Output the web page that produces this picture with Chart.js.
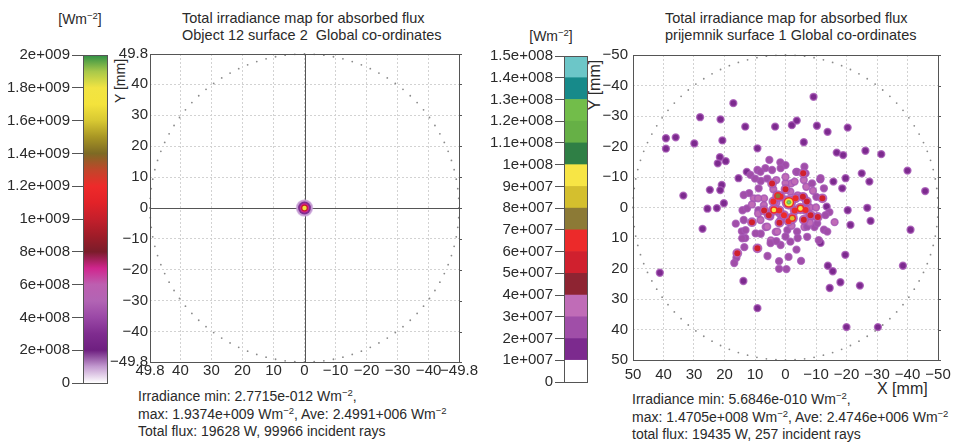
<!DOCTYPE html>
<html>
<head>
<meta charset="utf-8">
<script src="https://cdn.jsdelivr.net/npm/chart.js@4.4.1/dist/chart.umd.min.js"></script>
<style>
  html, body { margin: 0; padding: 0; background: #ffffff; }
  body { position: relative; width: 958px; height: 444px; overflow: hidden;
         font-family: "Liberation Sans", Arial, Helvetica, sans-serif; color: #2a2a2a; }
  canvas { position: absolute; }
  .txt { position: absolute; font-size: 14px; line-height: 17.5px; white-space: nowrap; }
  .title { font-size: 14.5px; line-height: 17px; }
  sup { font-size: 9.5px; vertical-align: 5px; line-height: 0; }
  .rot { position: absolute; width: 70px; height: 18px; line-height: 18px; text-align: center;
         transform: rotate(-90deg); white-space: nowrap; }
</style>
</head>
<body>

<div class="txt" style="left:55px;top:11px;width:50px;text-align:center">[Wm<sup>−2</sup>]</div>
<div class="txt" style="left:526px;top:28px;width:50px;text-align:center">[Wm<sup>−2</sup>]</div>

<div class="txt title" style="left:182px;top:10px">Total irradiance map for absorbed flux<br>Object 12 surface 2&nbsp; Global co-ordinates</div>
<div class="txt title" style="left:665px;top:10px">Total irradiance map for absorbed flux<br>prijemnik surface 1 Global co-ordinates</div>

<div class="rot" style="left:85px;top:72px;font-size:14px">Y [mm]</div>
<div class="rot" style="left:560px;top:76px;font-size:16px">Y [mm]</div>
<div class="txt" style="left:877px;top:380px;font-size:16px;line-height:18px">X [mm]</div>

<div class="txt" style="left:138px;top:388px">Irradiance min: 2.7715e-012 Wm<sup>−2</sup>,<br>max: 1.9374e+009 Wm<sup>−2</sup>, Ave: 2.4991+006 Wm<sup>−2</sup><br>Total flux: 19628 W, 99966 incident rays</div>
<div class="txt" style="left:632px;top:391px">Irradiance min: 5.6846e-010 Wm<sup>−2</sup>,<br>max: 1.4705e+008 Wm<sup>−2</sup>, Ave: 2.4746e+006 Wm<sup>−2</sup><br>total flux: 19435 W, 257 incident rays</div>

<canvas id="leftBar"  width="115" height="360" style="left:0px;top:40px"></canvas>
<canvas id="leftMap"  width="380" height="350" style="left:100px;top:40px"></canvas>
<canvas id="rightBar" width="120" height="360" style="left:480px;top:40px"></canvas>
<canvas id="rightMap" width="363" height="350" style="left:595px;top:40px"></canvas>

<script>
// ---------- colour bar scales ----------
const LEFT_BAR_TICKS  = [0, 2e8, 4e8, 6e8, 8e8, 1e9, 1.2e9, 1.4e9, 1.6e9, 1.8e9, 2e9];
const LEFT_BAR_LABELS = ['0', '2e+008', '4e+008', '6e+008', '8e+008', '1e+009',
                         '1.2e+009', '1.4e+009', '1.6e+009', '1.8e+009', '2e+009'];

const RIGHT_BAR_TICKS  = [0, 1e7, 2e7, 3e7, 4e7, 5e7, 6e7, 7e7, 8e7, 9e7, 1e8,
                          1.1e8, 1.2e8, 1.3e8, 1.4e8, 1.5e8];
const RIGHT_BAR_LABELS = ['0', '1e+007', '2e+007', '3e+007', '4e+007', '5e+007', '6e+007',
                          '7e+007', '8e+007', '9e+007', '1e+008', '1.1e+008', '1.2e+008',
                          '1.3e+008', '1.4e+008', '1.5e+008'];

// ---------- map axes (mm) ----------
const LEFT_AXIS_TICKS  = [-49.8, -40, -30, -20, -10, 0, 10, 20, 30, 40, 49.8];
const RIGHT_AXIS_TICKS = [-50, -40, -30, -20, -10, 0, 10, 20, 30, 40, 50];
const LEFT_APERTURE_R  = 49.8;
const RIGHT_APERTURE_R = 50;

// ---------- irradiance spots ----------
// Object 12 surface 2: one concentrated spot on axis (peak = reported max)
const LEFT_SPOT_X    = [0];
const LEFT_SPOT_Y    = [0];
const LEFT_SPOT_PEAK = [1.9374e9];

// prijemnik surface 1: ray hits (X mm, Y mm, peak irradiance W/m^2)
const RIGHT_SPOT_X = [
  // scattered single hits
  17.1, 28.0, 21.3, 13.2, 3.4, 39.2, 36.0, 39.2, 29.9, 20.7, 9.2, 21.5, 22.2, 19.6, 12.7, 15.4,
  20.9, 21.4, 24.8, 33.5, 25.6, 22.5, 20.2,
  -9.2, -2.1, -3.7, -10.3, -13.8, -20.4, -6.0, -16.8, -18.9, -26.2, -31.4, -25.0, -40.0, -11.4,
  -15.7, -19.7, -18.6, -27.5, -45.8, -13.5,
  27.2, 41.2, 13.8, 9.2,
  -41.0, -27.9, -21.3, -20.4, -26.8, -11.5, -19.6, -13.9, -15.5, -18.0, -14.5, -24.4, -38.5,
  -20.0, -30.3,
  // central cluster
  1.7, 5.3, 0.0, 9.2, 6.6, 8.1, 11.9, 7.0, 16.3, 14.3, 13.2, 13.5, 16.1, 16.8, 5.9, 2.1, 2.1,
  14.1, 8.9, 8.1, 4.8, 6.5, 3.2, 13.7,
  -3.6, -1.0, -5.1, -0.3, -12.6, -9.5, -6.2, -14.4, -16.1, -6.2, -3.5, -1.9, -6.8, -10.1,
  11.5, 8.2, 4.4, 1.6, -3.8, -6.6, -11.5, -8.7, -12.6, 13.7, 10.4, 8.8, 12.6, 8.2, 13.1, 9.8,
  6.0, 2.7, -0.6, -3.8, -7.1, -10.4, -13.1, 4.9, 1.6, -1.6, -7.1, -10.9, -13.7, 14.2,
  7.1, -6.0, -1.6, 1.6, 0.0, -4.0, 4.0, -8.0, 2.0, -2.0, 5.0, -9.0,
  0.0, -3.0, 3.0, 6.0, -6.0, 10.0, -9.0, 3.0, 9.0, 11.0, 9.0, -4.0, 0.0, 3.0, -10.0, -8.0,
  // hotter hits
  4.4, 1.6, -3.3, -6.6, 0.5, 5.5, -8.2, 11.0, 9.2, 15.8, -5.8, -12.1, -5.7, -10.6,
  0.0, 2.0, -3.0, -1.0, 4.0, 7.0, -7.0, 2.0, -6.0,
  3.8, -4.9, -2.2, 2.5,
  -1.1
];
const RIGHT_SPOT_Y = [
  -34.2, -29.6, -28.9, -26.5, -26.5, -22.7, -23.0, -19.3, -21.0, -22.0, -19.4, -16.5, -14.5,
  -15.2, -11.7, -9.6, -7.4, -5.7, -5.8, -3.9, 0.4, 0.2, -1.4,
  -36.3, -27.0, -28.5, -26.8, -24.8, -26.2, -21.4, -18.0, -17.2, -18.6, -17.5, -11.2, -12.1,
  -9.2, -8.5, -9.6, -6.3, -8.5, -5.4, -0.3,
  7.0, 21.4, 24.1, 33.0,
  7.3, 4.4, 5.7, 0.9, 0.1, 11.6, 15.5, 19.1, 20.9, 24.5, 26.4, 25.6, 19.1,
  39.2, 39.2,
  -14.8, -15.6, -13.9, -12.3, -12.9, -8.7, -4.7, -3.0, 5.3, 7.8, 10.0, 13.0, 16.5, 18.2, 15.9,
  17.6, 20.1, 0.9, 0.9, 8.6, 10.8, 6.4, 8.0, 4.1,
  13.8, 16.2, 17.5, 20.2, 7.3, 6.4, 6.4, 1.5, 4.8, -13.4, -11.7, -7.9, -6.8, -3.5,
  -10.7, -11.7, -12.3, -12.9, -11.7, -11.2, -9.6, -7.9, -6.3, -4.1, -3.0, -6.3, 0.3, 4.1, 7.4,
  8.5, 6.3, 7.9, 7.4, 7.9, 6.3, 5.2, 2.5, 11.7, 12.3, 11.2, 9.6, 10.7, 7.9, 10.1,
  -0.8, -3.5, -5.2, 4.1, -8.0, -4.0, -6.0, 0.0, 2.0, 6.0, 3.0, 3.0,
  -10.0, -8.5, -9.0, -9.5, -9.0, -9.5, -5.5, -1.5, -3.0, -1.0, 2.0, 10.0, 9.5, 11.0, 0.0, 5.0,
  -7.9, -3.5, -3.0, 0.8, 2.5, 2.5, 2.5, 4.8, 13.4, 15.0, -11.2, -3.0, -3.5, 3.1,
  -6.0, 1.0, 1.0, 4.5, -2.0, 1.0, -2.0, 5.0, 4.0,
  0.8, 0.3, 3.5, -3.8,
  -1.7
];
const RIGHT_SPOT_PEAK = [
  1.8e7, 1.8e7, 1.8e7, 1.8e7, 1.8e7, 1.8e7, 1.8e7, 1.8e7, 1.8e7, 1.8e7, 1.8e7, 1.8e7, 1.8e7,
  1.8e7, 1.8e7, 1.8e7, 1.8e7, 1.8e7, 1.8e7, 1.8e7, 1.8e7, 1.8e7, 1.8e7,
  1.8e7, 1.8e7, 1.8e7, 1.8e7, 1.8e7, 1.8e7, 1.8e7, 1.8e7, 1.8e7, 1.8e7, 1.8e7, 1.8e7, 1.8e7,
  1.8e7, 1.8e7, 1.8e7, 1.8e7, 1.8e7, 1.8e7, 1.8e7,
  1.8e7, 1.8e7, 1.8e7, 1.8e7,
  1.8e7, 1.8e7, 1.8e7, 1.8e7, 1.8e7, 1.8e7, 1.8e7, 1.8e7, 1.8e7, 1.8e7, 1.8e7, 1.8e7, 1.8e7,
  1.8e7, 1.8e7,
  2.6e7, 2.6e7, 2.8e7, 2.6e7, 2.6e7, 2.8e7, 2.6e7, 3.2e7, 2.6e7, 2.6e7, 2.6e7, 2.6e7, 2.6e7,
  2.6e7, 2.6e7, 2.6e7, 2.6e7, 2.6e7, 2.8e7, 2.8e7, 3.2e7, 3.0e7, 3.2e7, 2.6e7,
  2.6e7, 2.6e7, 2.6e7, 2.6e7, 2.6e7, 2.8e7, 3.0e7, 2.6e7, 3.4e7, 2.6e7, 2.8e7, 3.2e7, 3.2e7,
  2.8e7,
  2.6e7, 2.6e7, 2.8e7, 2.8e7, 2.8e7, 2.6e7, 2.6e7, 2.8e7, 2.6e7, 2.6e7, 3.0e7, 2.8e7, 2.8e7,
  3.2e7, 2.6e7, 2.6e7, 3.0e7, 3.0e7, 2.8e7, 2.8e7, 2.8e7, 2.6e7, 2.6e7, 2.6e7, 2.8e7, 2.8e7,
  2.6e7, 2.6e7, 2.6e7, 2.6e7,
  3.4e7, 3.4e7, 3.6e7, 3.6e7, 3.2e7, 3.6e7, 3.6e7, 3.4e7, 3.6e7, 3.4e7, 3.4e7, 3.2e7,
  3.0e7, 3.2e7, 3.0e7, 2.8e7, 3.0e7, 2.8e7, 3.0e7, 3.4e7, 3.2e7, 3.0e7, 3.2e7, 2.8e7, 2.8e7,
  2.8e7, 3.0e7, 3.2e7,
  5.5e7, 6.5e7, 6.5e7, 6.0e7, 6.2e7, 5.5e7, 5.2e7, 5.2e7, 5.2e7, 5.2e7, 5.2e7, 5.2e7, 5.5e7,
  5.2e7,
  5.2e7, 6.2e7, 6.2e7, 6.0e7, 6.0e7, 5.2e7, 5.2e7, 5.2e7, 5.2e7,
  9.2e7, 9.0e7, 8.8e7, 7.6e7,
  1.4705e8
];

// discrete palette of the right colour bar, one colour per 1e7 band
const RIGHT_COLORS = ['#ffffff', '#7c2a8e', '#a04ea8', '#c06cb7', '#8e2432', '#d0202e',
                      '#ec2a2a', '#8c7a36', '#d4bf2e', '#f7e545', '#2f7f45', '#66b046',
                      '#72bd4a', '#178a8a', '#6cc6c8'];

// continuous palette of the left colour bar (position 0..1 of full scale)
const LEFT_STOPS = [
  [0.00, '#ffffff'], [0.05, '#c39ad0'], [0.10, '#6e1f80'], [0.15, '#7f2c8f'],
  [0.20, '#9a48a6'], [0.25, '#b264b4'], [0.30, '#bd5fb0'], [0.35, '#d0258e'],
  [0.40, '#7a1c2a'], [0.45, '#a01c28'], [0.50, '#c41f2b'], [0.55, '#e22228'],
  [0.60, '#ee2a2a'], [0.65, '#c0462a'], [0.70, '#7d6a24'], [0.75, '#a89624'],
  [0.80, '#d8c832'], [0.85, '#f4e33c'], [0.90, '#f2e442'], [0.95, '#a8c84a'],
  [1.00, '#2e8f45']
];
const LEFT_MAX = 2e9;
const RIGHT_MAX = 1.5e8;

function hexToRgb(h) {
  return [parseInt(h.slice(1, 3), 16), parseInt(h.slice(3, 5), 16), parseInt(h.slice(5, 7), 16)];
}
function leftColor(v) {
  const t = Math.max(0, Math.min(1, v / LEFT_MAX));
  for (let i = 1; i < LEFT_STOPS.length; i++) {
    const [t1, c1] = LEFT_STOPS[i];
    if (t <= t1) {
      const [t0, c0] = LEFT_STOPS[i - 1];
      const f = (t - t0) / (t1 - t0);
      const a = hexToRgb(c0), b = hexToRgb(c1);
      return 'rgb(' + a.map((x, k) => Math.round(x + (b[k] - x) * f)).join(',') + ')';
    }
  }
  return LEFT_STOPS[LEFT_STOPS.length - 1][1];
}
function rightColor(v) {
  const idx = Math.max(0, Math.min(RIGHT_COLORS.length - 1, Math.floor(v / 1e7)));
  return RIGHT_COLORS[idx];
}

const FONT = '"Liberation Sans", Arial, Helvetica, sans-serif';
const TXT = '#2a2a2a';
Chart.defaults.font.family = FONT;
Chart.defaults.color = TXT;

const minus = v => String(v).replace('-', '\u2212');

// frame around the plotting area, with small outer ticks on the right edge
const framePlugin = {
  id: 'frame',
  afterDraw(chart, args, opts) {
    const { ctx, chartArea: a } = chart;
    ctx.save();
    ctx.strokeStyle = opts.color || '#555';
    ctx.lineWidth = 1;
    ctx.strokeRect(Math.round(a.left) + 0.5, Math.round(a.top) + 0.5,
                   Math.round(a.right - a.left), Math.round(a.bottom - a.top));
    if (opts.rightTicks) {
      const ys = chart.scales.y;
      ys.ticks.forEach(t => {
        const p = Math.round(ys.getPixelForValue(t.value)) + 0.5;
        ctx.beginPath();
        ctx.moveTo(a.right, p);
        ctx.lineTo(a.right + 3, p);
        ctx.stroke();
      });
    }
    ctx.restore();
  }
};

// dotted outline of the circular receiver aperture
const aperturePlugin = {
  id: 'aperture',
  beforeDatasetsDraw(chart, args, opts) {
    if (!opts.radius) return;
    const { ctx, scales: { x, y } } = chart;
    ctx.save();
    ctx.fillStyle = opts.color || '#8a8a8a';
    for (let k = 0; k < opts.count; k++) {
      const ang = 2 * Math.PI * k / opts.count;
      const px = x.getPixelForValue(opts.radius * Math.cos(ang));
      const py = y.getPixelForValue(opts.radius * Math.sin(ang));
      ctx.beginPath();
      ctx.arc(px, py, 0.9, 0, 2 * Math.PI);
      ctx.fill();
    }
    ctx.restore();
  }
};

// axis cross-hair through the origin
const crossPlugin = {
  id: 'cross',
  beforeDatasetsDraw(chart, args, opts) {
    if (!opts.show) return;
    const { ctx, chartArea: a, scales: { x, y } } = chart;
    const px = Math.round(x.getPixelForValue(0)) + 0.5;
    const py = Math.round(y.getPixelForValue(0)) + 0.5;
    ctx.save();
    ctx.strokeStyle = '#555';
    ctx.lineWidth = 1;
    ctx.beginPath();
    ctx.moveTo(px, a.top); ctx.lineTo(px, a.bottom);
    ctx.moveTo(a.left, py); ctx.lineTo(a.right, py);
    ctx.stroke();
    ctx.restore();
  }
};

// spots drawn as nested iso-irradiance rings: ring k holds every hit whose peak reaches
// levels[k]; hotter hits spread wider, so their outer rings grow by `grow` px per extra level
function ringDatasets(xs, ys, peaks, levels, radii, grow, colorOf, halo) {
  const reach = p => levels.filter(l => p >= l).length - 1;
  return levels.map((lvl, k) => {
    const pts = [];
    xs.forEach((x, i) => { if (peaks[i] >= lvl) pts.push({ x: x, y: ys[i], peak: peaks[i] }); });
    const rad = c => radii[k] + (c.raw ? grow * (reach(c.raw.peak) - k) : 0);
    return {
      data: pts,
      order: levels.length - k,
      pointRadius: rad,
      pointHoverRadius: rad,
      pointBackgroundColor: c => colorOf(c.raw ? c.raw.peak : lvl, k),
      pointBorderColor: halo.color,
      pointBorderWidth: k === 0 ? halo.width : 0,
      showLine: false
    };
  });
}

function colourBarScale(ticks, labels, max, tickLen, width, across) {
  return {
    min: 0, max: max, z: 1,
    afterBuildTicks: s => { s.ticks = ticks.map(v => ({ value: v })); },
    afterFit: s => { s.width = width; },
    ticks: { autoSkip: false, padding: 2, color: TXT, font: { size: 15 },
             callback: v => labels[ticks.indexOf(v)] },
    grid: { drawOnChartArea: across, color: 'rgba(40,40,40,0.55)', tickLength: tickLen,
            tickColor: '#555', lineWidth: 1 },
    border: { display: false }
  };
}

const baseOpts = {
  responsive: false, animation: false, devicePixelRatio: 1, events: [],
  plugins: { legend: { display: false }, tooltip: { enabled: false } }
};

// ---------- left colour bar (continuous) ----------
new Chart(document.getElementById('leftBar'), {
  type: 'bar',
  data: {
    labels: [''],
    datasets: [{
      data: [[0, LEFT_MAX]],
      barPercentage: 1, categoryPercentage: 1, borderWidth: 0,
      backgroundColor: c => {
        const ch = c.chart;
        if (!ch.chartArea) return '#ffffff';
        const ys = ch.scales.y;
        const g = ch.ctx.createLinearGradient(0, ys.getPixelForValue(0), 0, ys.getPixelForValue(LEFT_MAX));
        LEFT_STOPS.forEach(([t, col]) => g.addColorStop(t, col));
        return g;
      }
    }]
  },
  options: Object.assign({}, baseOpts, {
    layout: { padding: { left: 0, right: 8, top: 15, bottom: 17 } },
    scales: {
      x: { display: false },
      y: colourBarScale(LEFT_BAR_TICKS, LEFT_BAR_LABELS, LEFT_MAX, 11, 83, true)
    },
    plugins: Object.assign({}, baseOpts.plugins, { frame: { color: '#555' } })
  }),
  plugins: [framePlugin]
});

// ---------- right colour bar (15 discrete bands) ----------
new Chart(document.getElementById('rightBar'), {
  type: 'bar',
  data: {
    labels: [''],
    datasets: RIGHT_COLORS.map((col, i) => ({
      data: [[RIGHT_BAR_TICKS[i], RIGHT_BAR_TICKS[i + 1]]],
      backgroundColor: col, borderWidth: 0, grouped: false,
      barPercentage: 1, categoryPercentage: 1
    }))
  },
  options: Object.assign({}, baseOpts, {
    layout: { padding: { left: 0, right: 13, top: 16, bottom: 18 } },
    scales: {
      x: { display: false },
      y: colourBarScale(RIGHT_BAR_TICKS, RIGHT_BAR_LABELS, RIGHT_MAX, 9, 84, false)
    },
    plugins: Object.assign({}, baseOpts.plugins, { frame: { color: '#555' } })
  }),
  plugins: [framePlugin]
});

function mapAxis(ticks, reverse, fitKey, fitVal, pad) {
  return {
    type: 'linear', min: ticks[0], max: ticks[ticks.length - 1], reverse: reverse,
    afterBuildTicks: s => { s.ticks = ticks.map(v => ({ value: v })); },
    afterFit: s => { s[fitKey] = fitVal; },
    ticks: { autoSkip: false, maxRotation: 0, padding: pad, color: TXT, font: { size: 15 },
             callback: v => minus(v) },
    grid: { color: '#d2d2d2', lineWidth: 1, drawTicks: false },
    border: { display: false, dash: [2, 2] }
  };
}

// ---------- left irradiance map ----------
const LEFT_RING_LEVELS = [1e8, 3e8, 7e8, 1e9, 1.75e9];
new Chart(document.getElementById('leftMap'), {
  type: 'scatter',
  data: {
    datasets: ringDatasets(LEFT_SPOT_X, LEFT_SPOT_Y, LEFT_SPOT_PEAK, LEFT_RING_LEVELS,
      [8, 6.4, 4.7, 3.4, 2.2], 0,
      (peak, k) => leftColor(LEFT_RING_LEVELS[k]),
      { color: 'rgba(200,160,215,0.6)', width: 1.5 })
  },
  options: Object.assign({}, baseOpts, {
    layout: { padding: { left: 0, right: 21, top: 14, bottom: 0 } },
    scales: {
      x: mapAxis(LEFT_AXIS_TICKS, true, 'height', 28, 0),
      y: mapAxis(LEFT_AXIS_TICKS, false, 'width', 50, 2)
    },
    plugins: Object.assign({}, baseOpts.plugins, {
      frame: { color: '#555', rightTicks: true },
      aperture: { radius: LEFT_APERTURE_R, count: 100, color: '#8a8a8a' },
      cross: { show: true }
    })
  }),
  plugins: [framePlugin, aperturePlugin, crossPlugin]
});

// ---------- right irradiance map ----------
const RIGHT_RING_LEVELS = [1e7, 4e7, 7e7, 1e8, 1.3e8];
new Chart(document.getElementById('rightMap'), {
  type: 'scatter',
  data: {
    datasets: ringDatasets(RIGHT_SPOT_X, RIGHT_SPOT_Y, RIGHT_SPOT_PEAK, RIGHT_RING_LEVELS,
      [3.4, 3.0, 2.3, 1.6, 0.8], 0.8,
      (peak, k) => {
        const next = RIGHT_RING_LEVELS[k + 1];
        return rightColor(next === undefined ? peak : Math.min(peak, next - 1));
      },
      { color: 'rgba(165,85,180,0.8)', width: 1.5 })
  },
  options: Object.assign({}, baseOpts, {
    layout: { padding: { left: 0, right: 20, top: 15, bottom: 0 } },
    scales: {
      x: mapAxis(RIGHT_AXIS_TICKS, true, 'height', 30, 6),
      y: mapAxis(RIGHT_AXIS_TICKS, true, 'width', 38, 5)
    },
    plugins: Object.assign({}, baseOpts.plugins, {
      frame: { color: '#555', rightTicks: true },
      aperture: { radius: RIGHT_APERTURE_R, count: 100, color: '#8a8a8a' },
      cross: { show: false }
    })
  }),
  plugins: [framePlugin, aperturePlugin, crossPlugin]
});
</script>
</body>
</html>
